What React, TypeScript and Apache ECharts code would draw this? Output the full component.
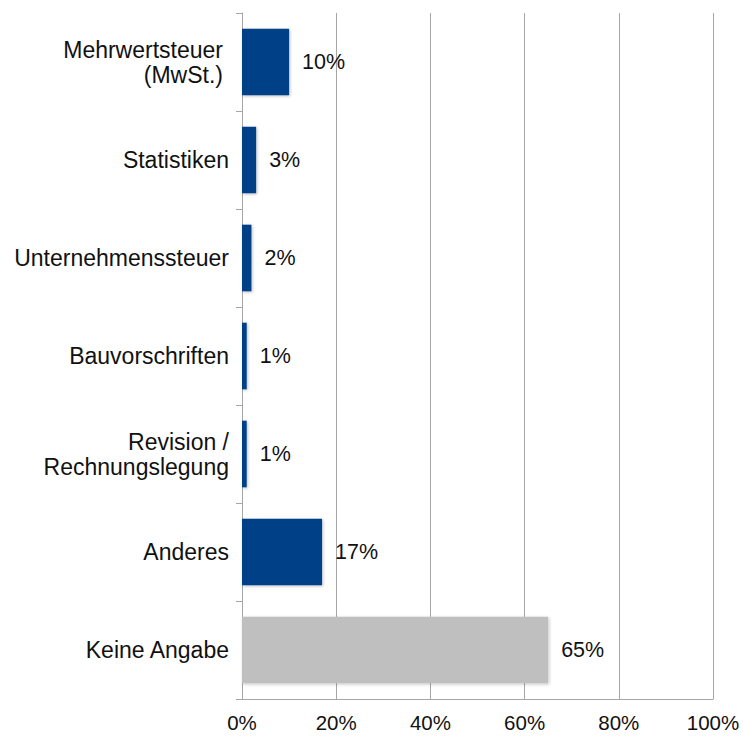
import React, { useEffect, useRef } from "react";
import * as echarts from "echarts";

const categories = [
  "Mehrwertsteuer\n(MwSt.)",
  "Statistiken",
  "Unternehmenssteuer",
  "Bauvorschriften",
  "Revision /\nRechnungslegung",
  "Anderes",
  "Keine Angabe",
];
const values = [10, 3, 2, 1, 1, 17, 65];
const barColors = ["#003F87", "#003F87", "#003F87", "#003F87", "#003F87", "#003F87", "#BFBFBF"];
const xTicks = [0, 20, 40, 60, 80, 100];

export default function App() {
  const ref = useRef<HTMLDivElement>(null);
  useEffect(() => {
    if (!ref.current) return;
    const chart = echarts.init(ref.current, null, { renderer: "svg" });
    const font = "'Liberation Sans', Arial, sans-serif";
    const labelPads: Record<number, number[]> = { 0: [6, 6, 0, 0], 4: [0, 0, 6, 0] };
    chart.setOption({
      animation: false,
      grid: { left: 242, top: 13, right: 30, bottom: 37, containLabel: false },
      xAxis: {
        type: "value",
        min: xTicks[0],
        max: xTicks[xTicks.length - 1],
        interval: 20,
        axisLine: { show: true, lineStyle: { color: "#A6A6A6", width: 1 } },
        axisTick: { show: false },
        splitLine: { show: true, lineStyle: { color: "#A6A6A6", width: 1 } },
        axisLabel: {
          formatter: (v: number) => v + "%",
          color: "#111111",
          fontSize: 20.5,
          fontFamily: font,
          margin: 13,
        },
      },
      yAxis: {
        type: "category",
        data: categories.map((c, i) =>
          labelPads[i] ? { value: c, textStyle: { padding: labelPads[i] } } : c
        ),
        inverse: true,
        axisLine: { show: true, lineStyle: { color: "#A6A6A6", width: 1 } },
        axisTick: { show: true, length: 6, lineStyle: { color: "#A6A6A6" } },
        splitLine: { show: false },
        axisLabel: {
          color: "#111111",
          fontSize: 23,
          fontFamily: font,
          margin: 13,
          lineHeight: 25,
        },
      },
      series: [
        {
          type: "bar",
          data: values.map((v, i) => ({
            value: v,
            itemStyle: {
              color: barColors[i],
              shadowColor: "rgba(0,0,0,0.25)",
              shadowBlur: 3,
              shadowOffsetX: 1,
              shadowOffsetY: 1,
            },
          })),
          barCategoryGap: "32%",
          label: {
            show: true,
            position: "right",
            distance: 13,
            formatter: (p: any) => p.value + "%",
            color: "#111111",
            fontSize: 21.5,
            fontFamily: font,
          },
        },
      ],
    });
    return () => chart.dispose();
  }, []);
  return <div ref={ref} style={{ width: 743, height: 736, position: "absolute", left: 0, top: 0 }} />;
}
